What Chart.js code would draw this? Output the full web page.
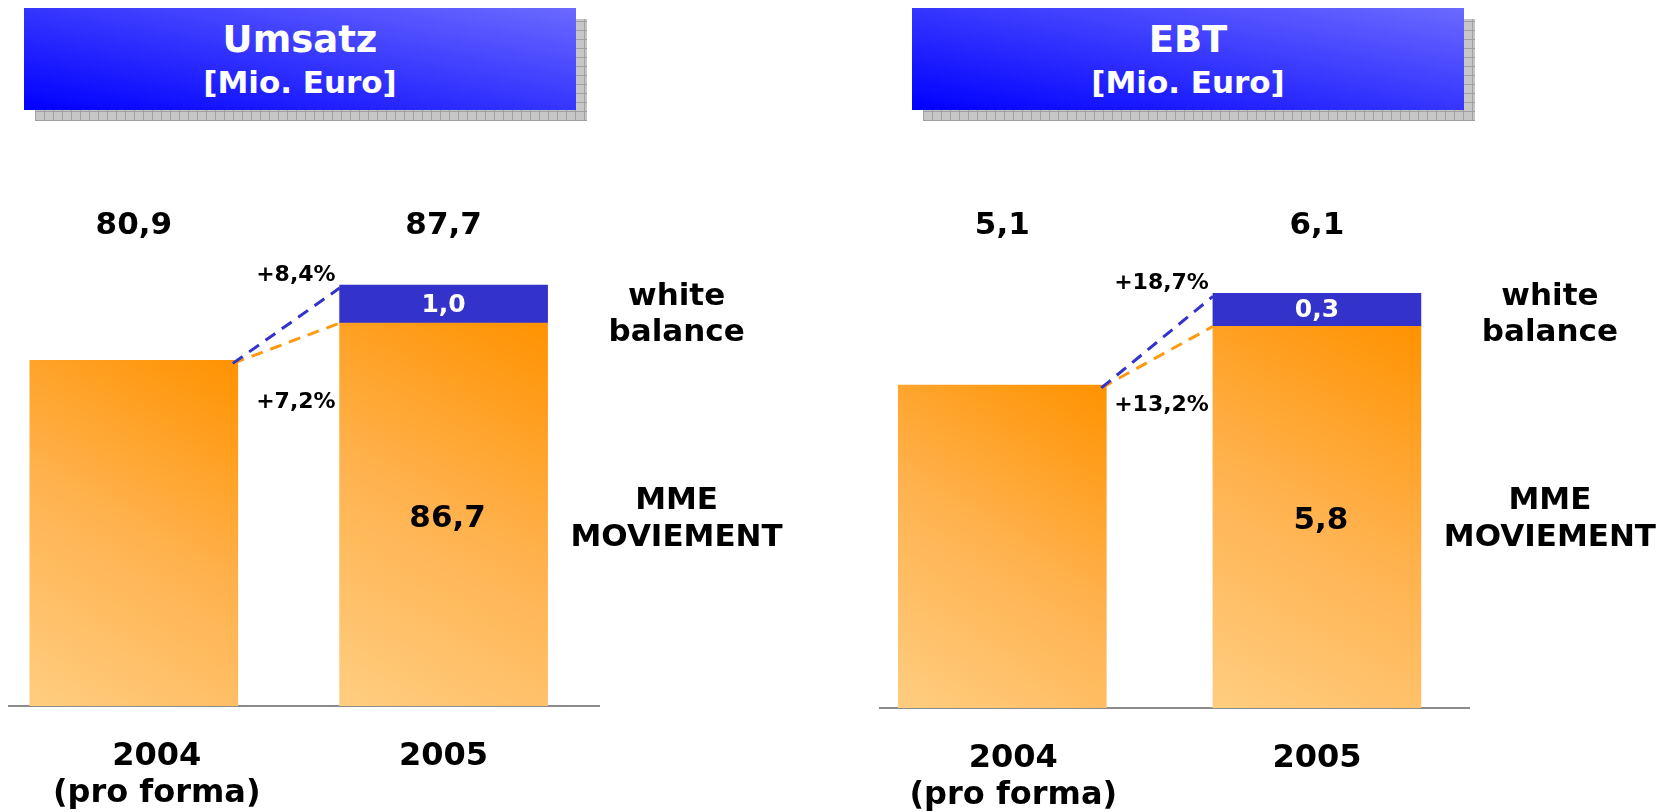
<!DOCTYPE html>
<html>
<head>
<meta charset="utf-8">
<script src="https://cdn.jsdelivr.net/npm/chart.js@4"></script>
<style>
  body { margin: 0; background: #fff; width: 1672px; height: 812px; overflow: hidden; position: relative; font-family: "DejaVu Sans", Verdana, sans-serif; }
  canvas { position: absolute; top: 0; }
  .shadow, .box { position: absolute; top: 8px; width: 552px; height: 102px; }
  .shadow {
    background-color: #c6c6c6;
    background-image: repeating-linear-gradient(0deg, #a0a0a0 0 1px, transparent 1px 9px),
                      repeating-linear-gradient(90deg, #a0a0a0 0 1px, transparent 1px 9px);
    transform: translate(11px, 11px);
  }
  .box { background: linear-gradient(to top right, #0000ff, #6a6aff); color: #fff; font-weight: bold; text-align: center; }
  .box .t1 { margin-top: 11px; height: 42px; line-height: 42px; font-size: 37px; }
  .box .t2 { height: 42px; line-height: 42px; font-size: 31px; }
</style>
</head>
<body>
<div class="shadow" style="left:24px"></div>
<div class="box" style="left:24px"><div class="t1">Umsatz</div><div class="t2">[Mio. Euro]</div></div>
<div class="shadow" style="left:912px"></div>
<div class="box" style="left:912px"><div class="t1">EBT</div><div class="t2">[Mio. Euro]</div></div>

<canvas id="umsatzChart" width="836" height="812" style="left:0"></canvas>
<canvas id="ebtChart" width="836" height="812" style="left:836px"></canvas>

<script>
// categories and values
const years = ["2004", "2005"];
const yearNotes = ["(pro forma)", ""];
const seriesNames = ["MME MOVIEMENT", "white balance"];

const umsatzMme = [80.9, 86.7];
const umsatzWb = [null, 1.0];
const umsatzGrowth = ["+8,4%", "+7,2%"];   // total, MME only

const ebtMme = [5.1, 5.8];
const ebtWb = [null, 0.3];
const ebtGrowth = ["+18,7%", "+13,2%"];

const FONT = '"DejaVu Sans", Verdana, sans-serif';
const fmt = v => v.toFixed(1).replace(".", ",");

// gradient orange per bar, light bottom-left to strong top-right
function orangeFill(c) {
    const chart = c.chart;
    const area = chart.chartArea;
    if (!area || !c.parsed) return "#ffb04a";
    const xs = chart.scales.x, ys = chart.scales.y;
    const cx = xs.getPixelForValue(c.parsed.x);
    const top = ys.getPixelForValue(c.parsed.y);
    const g = chart.ctx.createLinearGradient(cx - 104, area.bottom, cx + 104, top);
    g.addColorStop(0, "#ffcd80");
    g.addColorStop(0.5, "#ffb24e");
    g.addColorStop(1, "#ff9200");
    return g;
}

const annotate = {
    id: "annotate",
    afterDatasetsDraw(chart, args, o) {
        const ctx = chart.ctx;
        const area = chart.chartArea;
        const props = el => el.getProps(["x", "y", "base", "width"], true);
        const m = chart.getDatasetMeta(0).data.map(props);
        const w = props(chart.getDatasetMeta(1).data[1]);
        const b1 = m[0], b2 = m[1];
        const hw = b2.width / 2;

        ctx.save();
        // growth lines
        ctx.lineWidth = 3;
        ctx.setLineDash([12, 8]);
        const sx = b1.x + b1.width / 2 - 5, sy = b1.y + 3;
        ctx.strokeStyle = "#ff9a10";
        ctx.beginPath(); ctx.moveTo(sx, sy); ctx.lineTo(b2.x - hw, b2.y); ctx.stroke();
        ctx.strokeStyle = "#3333cc";
        ctx.beginPath(); ctx.moveTo(sx, sy); ctx.lineTo(b2.x - hw, w.y + 3); ctx.stroke();
        ctx.setLineDash([]);

        ctx.textAlign = "center";
        ctx.textBaseline = "middle";
        ctx.fillStyle = "#000";
        ctx.font = "bold 31px " + FONT;
        // totals on top
        o.mme.forEach((v, i) => {
            ctx.fillText(fmt(v + (o.wb[i] || 0)), m[i].x, area.top + 26);
        });
        // value inside the MME part of 2005
        const obase = Math.min(b2.base, area.bottom);
        ctx.fillText(fmt(o.mme[1]), b2.x + 4, (b2.y + obase) / 2 + 4);
        // side labels
        const sideX = b2.x + hw + 129;
        const wbLines = seriesNames[1].split(" ");
        ctx.fillText(wbLines[0], sideX, area.top + 97);
        ctx.fillText(wbLines[1], sideX, area.top + 133);
        const mmeLines = seriesNames[0].split(" ");
        ctx.fillText(mmeLines[0], sideX, area.top + 301);
        ctx.fillText(mmeLines[1], sideX, area.top + 338);

        // white balance value
        const wc = (w.y + w.base) / 2;
        ctx.fillStyle = "#fff";
        ctx.font = "bold 25px " + FONT;
        ctx.fillText(fmt(o.wb[1]), w.x, wc + 1);

        // growth rates
        ctx.fillStyle = "#000";
        ctx.font = "bold 22px " + FONT;
        ctx.textAlign = "right";
        ctx.fillText(o.growth[0], b2.x - hw - 4, w.y - 10);
        ctx.fillText(o.growth[1], b2.x - hw - 4, b2.y + 79);
        ctx.restore();
    }
};

function makeChart(id, mme, wb, growth, view) {
    new Chart(document.getElementById(id), {
        type: "bar",
        data: {
            datasets: [{
                label: seriesNames[0],
                data: mme.map((v, i) => ({ x: i, y: v })),
                backgroundColor: orangeFill,
                barThickness: 208
            }, {
                label: seriesNames[1],
                data: wb.map((v, i) => ({ x: i, y: v })),
                backgroundColor: "#3333cc",
                barThickness: 208,
                minBarLength: view.minBar
            }]
        },
        options: {
            responsive: false,
            animation: false,
            events: [],
            layout: { padding: { left: view.padLeft, right: view.padRight, top: 200, bottom: 0 } },
            plugins: {
                legend: { display: false },
                tooltip: { enabled: false },
                annotate: { mme, wb, growth }
            },
            scales: {
                x: {
                    type: "linear",
                    stacked: true,
                    offset: false,
                    min: view.xMin,
                    max: view.xMax,
                    grid: { display: false, drawTicks: false, offset: false },
                    border: { display: true, color: "#8c8c8c", width: 2 },
                    // the 2004 caption sits a little right of its bar on the slide
                    afterBuildTicks: s => { s.ticks = years.map((_, i) => ({ value: i + view.labelShift[i] })); },
                    afterFit: s => { s.height = view.axisH; },
                    ticks: {
                        autoSkip: false,
                        maxRotation: 0,
                        padding: 32,
                        color: "#000",
                        font: { family: FONT, size: 32, weight: "bold", lineHeight: 1.16 },
                        callback: v => {
                            const i = Math.round(v);
                            return yearNotes[i] ? [years[i], yearNotes[i]] : years[i];
                        }
                    }
                },
                y: {
                    stacked: true,
                    display: false,
                    min: view.yMin,
                    max: view.yMax
                }
            }
        },
        plugins: [annotate]
    });
}

makeChart("umsatzChart", umsatzMme, umsatzWb, umsatzGrowth, {
    xMin: -0.4045, xMax: 1.5026, padLeft: 8.5, padRight: 236.7,
    yMin: 27.16, yMax: 105.84, axisH: 106, minBar: 38, labelShift: [0.074, 0]
});
makeChart("ebtChart", ebtMme, ebtWb, ebtGrowth, {
    xMin: -0.3897, xMax: 1.4847, padLeft: 43.7, padRight: 202.6,
    yMin: 1.24, yMax: 7.31, axisH: 104, minBar: 33, labelShift: [0.035, 0]
});
</script>
</body>
</html>
